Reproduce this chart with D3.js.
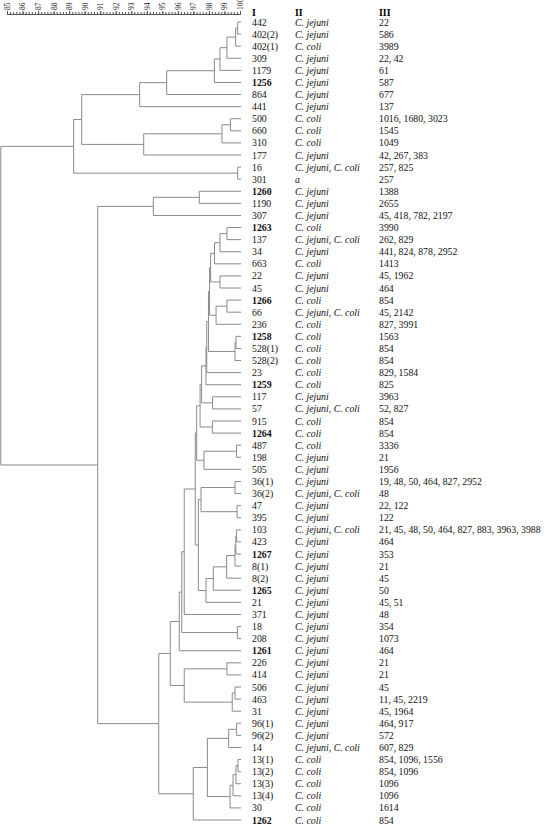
<!DOCTYPE html>
<html><head><meta charset="utf-8">
<script src="https://cdn.jsdelivr.net/npm/d3@7"></script>
<style>body{margin:0;background:#fff}svg{display:block}</style>
</head><body>
<svg id="c" width="544" height="827"></svg>
<script>
// ---------- data ----------
const scaleTicks = d3.range(85, 101);
const headers = ["I", "II", "III"];
const leafIds = ["442","402(2)","402(1)","309","1179","1256","864","441","500","660","310","177","16","301","1260","1190","307","1263","137","34","663","22","45","1266","66","236","1258","528(1)","528(2)","23","1259","117","57","915","1264","487","198","505","36(1)","36(2)","47","395","103","423","1267","8(1)","8(2)","1265","21","371","18","208","1261","226","414","506","463","31","96(1)","96(2)","14","13(1)","13(2)","13(3)","13(4)","30","1262"];
const species = ["C. jejuni","C. jejuni","C. coli","C. jejuni","C. jejuni","C. jejuni","C. jejuni","C. jejuni","C. coli","C. coli","C. coli","C. jejuni","C. jejuni, C. coli","a","C. jejuni","C. jejuni","C. jejuni","C. coli","C. jejuni, C. coli","C. jejuni","C. coli","C. jejuni","C. jejuni","C. coli","C. jejuni, C. coli","C. coli","C. coli","C. coli","C. coli","C. coli","C. coli","C. jejuni","C. jejuni, C. coli","C. coli","C. coli","C. coli","C. jejuni","C. jejuni","C. jejuni","C. jejuni, C. coli","C. jejuni","C. jejuni","C. jejuni, C. coli","C. jejuni","C. jejuni","C. jejuni","C. jejuni","C. jejuni","C. jejuni","C. jejuni","C. jejuni","C. jejuni","C. jejuni","C. jejuni","C. jejuni","C. jejuni","C. jejuni","C. jejuni","C. jejuni","C. jejuni","C. jejuni, C. coli","C. coli","C. coli","C. coli","C. coli","C. coli","C. coli"];
const stTypes = ["22","586","3989","22, 42","61","587","677","137","1016, 1680, 3023","1545","1049","42, 267, 383","257, 825","257","1388","2655","45, 418, 782, 2197","3990","262, 829","441, 824, 878, 2952","1413","45, 1962","464","854","45, 2142","827, 3991","1563","854","854","829, 1584","825","3963","52, 827","854","854","3336","21","1956","19, 48, 50, 464, 827, 2952","48","22, 122","122","21, 45, 48, 50, 464, 827, 883, 3963, 3988","464","353","21","45","50","45, 51","48","354","1073","464","21","21","45","11, 45, 2219","45, 1964","464, 917","572","607, 829","854, 1096, 1556","854, 1096","1096","1096","1614","854"];
const boldIds = ["1256","1260","1263","1266","1258","1259","1264","1267","1265","1261","1262"];
// merges: [node, childA, childB, similarity %]
const merges = [
 ["a1","442","402(2)",99.85],["a2","a1","402(1)",99.72],["a3","a2","309",99.16],
 ["a4","a3","1179",98.71],["a5","a4","1256",98.35],["a6","a5","864",95.28],["a7","a6","441",93.54],
 ["b1","500","660",99.38],["b2","b1","310",98.84],["b3","b2","177",93.80],
 ["ab","a7","b3",89.81],["c1","16","301",99.85],["abc","ab","c1",89.29],
 ["d0","1260","1190",97.38],["d1","d0","307",94.42],
 ["n1","1263","137",99.16],["n2","n1","34",98.71],["n3","n2","663",98.36],["n4","22","45",98.71],
 ["n5","n3","n4",98.11],["n6","1266","66",99.16],["n7","n6","236",98.46],["n8","n5","n7",98.04],
 ["n9a","1258","528(1)",99.74],["n9","n9a","528(2)",99.68],["n10","n8","n9",97.97],
 ["n11","n10","23",97.86],["n12","n11","1259",97.81],["p1","117","57",98.23],["n13","n12","p1",97.53],
 ["p2","915","1264",98.22],["n14","n13","p2",97.43],["p3","487","198",99.78],["p4","p3","505",97.68],
 ["n15","n14","p4",97.21],["q1","36(1)","36(2)",99.68],["q2","47","395",99.81],["n16","q1","q2",97.49],
 ["r1","103","423",99.78],["r2","r1","1267",99.73],["r3","r2","8(1)",99.68],["r4","r3","8(2)",99.14],
 ["r5","r4","1265",98.28],["r6","r5","21",97.81],["nd","n16","r6",97.32],["nf","n15","nd",97.12],
 ["ne","nf","371",96.41],["s1","18","208",99.83],["ng","ne","s1",96.25],["nh","ng","1261",96.09],
 ["t1","226","414",99.16],["t2","506","463",99.68],["t3","t2","31",99.50],["nj","t1","t3",96.41],
 ["ni","nh","nj",95.51],["u1","96(1)","96(2)",99.78],["u2","u1","14",99.27],
 ["v1","13(1)","13(2)",99.87],["v2","v1","13(3)",99.74],["v3","v2","13(4)",99.55],["v4","v3","30",99.36],
 ["np","u2","v4",97.90],["nm","np","1262",96.99],["nl","ni","nm",94.77],
 ["ll","d1","nl",90.84],["root","abc","ll",84.60]
];

// ---------- build ----------
const svg = d3.select("#c");
const font = "'Liberation Serif','Times New Roman',serif";
const x = d3.scaleLinear().domain([85, 100]).range([7, 240]);
const y = d3.scalePoint().domain(leafIds).range([22, 820]);

const nodes = {};
leafIds.forEach(id => nodes[id] = {name: id, sim: 100});
merges.forEach(([n, a, b, s]) => nodes[n] = {name: n, sim: s, children: [nodes[a], nodes[b]]});
const root = d3.hierarchy(nodes["root"]);
root.eachAfter(d => {
  d.px = x(d.data.sim);
  d.py = d.children ? d3.mean(d.children, c => c.py) : y(d.data.name);
});
root.leaves().forEach(l => l.px = x(100) + 1);

const g = svg.append("g").attr("fill", "none").attr("stroke", "#8a8a8a").attr("stroke-width", 1);
root.descendants().filter(d => d.children).forEach(d => {
  const [c1, c2] = d.children;
  g.append("line").attr("x1", d.px).attr("x2", d.px).attr("y1", c1.py).attr("y2", c2.py);
  d.children.forEach(c => g.append("line").attr("x1", d.px).attr("x2", c.px).attr("y1", c.py).attr("y2", c.py));
});

// axis
const axisG = svg.append("g").attr("transform", "translate(0,14)");
axisG.call(d3.axisTop(x).tickValues(d3.range(85, 100.01, 0.2)).tickSize(2).tickFormat(""));
axisG.call(g2 => g2.append("g").call(d3.axisTop(x).tickValues(scaleTicks).tickSize(3).tickFormat(d3.format("d"))));
axisG.selectAll("path.domain").attr("stroke", "#555");
axisG.selectAll(".tick line").attr("stroke", "#555");
axisG.selectAll(".tick text")
  .attr("font-family", font).attr("font-size", 7.5).attr("fill", "#222")
  .attr("text-anchor", "start")
  .attr("transform", "rotate(-90)")
  .attr("x", 4).attr("y", 0).attr("dy", "0.32em");

// table
const colX = [252, 295, 379];
svg.selectAll("text.hdr").data(headers).join("text").attr("class", "hdr")
  .attr("x", (d, i) => colX[i]).attr("y", 16)
  .attr("font-family", font).attr("font-size", 9.8).attr("font-weight", "bold").text(d => d);

const rows = svg.append("g").attr("font-family", font).attr("font-size", 9.8).attr("fill", "#111");
leafIds.forEach((id, i) => {
  const yy = y(id) + 3.5;
  rows.append("text").attr("x", colX[0]).attr("y", yy)
    .attr("font-weight", boldIds.includes(id) ? "bold" : "normal").text(id);
  rows.append("text").attr("x", colX[1]).attr("y", yy).attr("font-style", "italic").text(species[i]);
  rows.append("text").attr("x", colX[2]).attr("y", yy).text(stTypes[i]);
});
</script>
</body></html>
